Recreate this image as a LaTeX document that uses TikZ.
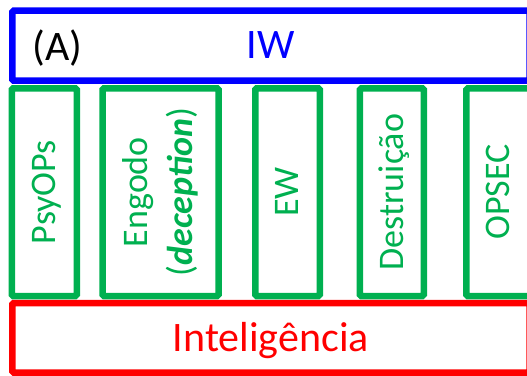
\documentclass[tikz,border=0pt]{standalone}
\usepackage{fontspec}
\setmainfont{Carlito}
\definecolor{verde}{RGB}{0,176,80}
\definecolor{azul}{RGB}{0,0,255}
\definecolor{vermelho}{RGB}{255,0,0}
\begin{document}
\begin{tikzpicture}[x=1pt, y=1pt,
	caixa/.style={draw, line width=6.5pt, rounded corners=1.5pt, inner sep=0pt,
		font=\fontsize{42}{51}\selectfont, text height=26.5pt, text depth=0pt},
	faixa/.style={caixa, minimum width=517.2pt, minimum height=70pt},
	pilar/.style={caixa, draw=verde, text=verde, rotate=90, minimum width=207.7pt,
		font=\fontsize{36}{45}\selectfont, text height=22.8pt}]
	\useasboundingbox (0,0) rectangle (527,375);
	\node[faixa, draw=azul, text=azul] (iw) at (270.9,329.25) {IW};
	\node[caixa, draw=none] (a) at (57.5,327.5) {(A)};
	\node[pilar, minimum height=65pt] (psy) at (44.25,182.85) {PsyOPs};
	\node[pilar, minimum height=116pt, align=center, text height={}, text depth={}] (eng) at (160.5,182.85) {Engodo\\({\bfseries\itshape deception})};
	\node[pilar, minimum height=64.5pt] (ew) at (287.5,182.85) {EW};
	\node[pilar, minimum height=64pt] (des) at (391.8,182.85) {Destruição};
	\node[pilar, minimum height=64pt] (ops) at (498.3,182.85) {OPSEC};
	\node[faixa, minimum height=69.5pt, draw=vermelho, text=vermelho] (int) at (270.9,37.25) {Inteligência};
\end{tikzpicture}
\end{document}
